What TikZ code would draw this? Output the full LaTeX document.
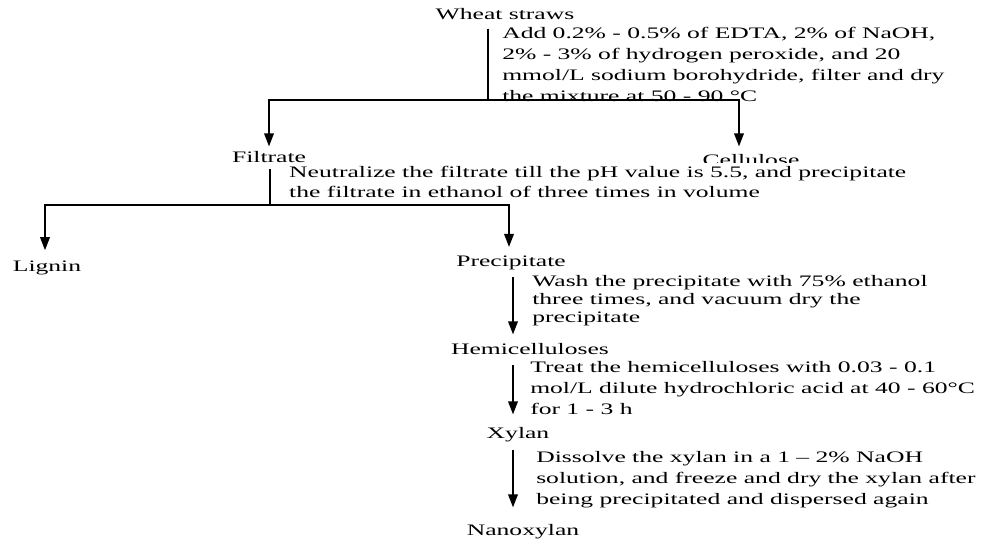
\documentclass[tikz,border=0pt]{standalone}
\usepackage{fontspec}
\setmainfont{Liberation Serif}[FakeStretch=1.6]
\usetikzlibrary{arrows.meta}
\begin{document}
\begin{tikzpicture}[x=0.75pt,y=-0.75pt,
  lbl/.style={inner sep=0pt, anchor=base, font=\fontsize{12pt}{15pt}\selectfont},
  note/.style={inner sep=0pt, anchor=base west, align=left, font=\fontsize{12pt}{15.4pt}\selectfont},
  stem/.style={line width=1.5pt},
  flow/.style={line width=1.9pt, -{Triangle[length=10pt,width=7pt]}}]
\useasboundingbox[fill=white] (0,0) rectangle (1000,549);

\node[lbl] (wheat) at (505,20) {Wheat straws};
\node[lbl] (filtrate) at (269,163) {Filtrate};
\node[lbl] (cellulose) at (751,165.5) {Cellulose};
\node[lbl] (lignin) at (47,272) {Lignin};
\node[lbl] (precip) at (511,267) {Precipitate};
\node[lbl] (hemi) at (530,354) {Hemicelluloses};
\node[lbl] (xylan) at (518,438) {Xylan};
\node[lbl] (nano) at (523,535) {Nanoxylan};

\node[note, font=\fontsize{12pt}{15.75pt}\selectfont] (add) at (502,102) {Add 0.2\% - 0.5\% of EDTA, 2\% of NaOH,\\
  2\% - 3\% of hydrogen peroxide, and 20\\
  mmol/L sodium borohydride, filter and dry\\
  the mixture at 50 - 90 °C};
\node[note, fill=white, inner xsep=2pt, inner ysep=2.2pt] (neut) at (286.3,198) {Neutralize the filtrate till the pH value is 5.5, and precipitate\\
  the filtrate in ethanol of three times in volume};
\node[note, font=\fontsize{12pt}{13.2pt}\selectfont] (wash) at (532,322) {Wash the precipitate with 75\% ethanol\\
  three times, and vacuum dry the\\
  precipitate};
\node[note] (treat) at (530,414) {Treat the hemicelluloses with 0.03 - 0.1\\
  mol/L dilute hydrochloric acid at 40 - 60°C\\
  for 1 - 3 h};
\node[note, font=\fontsize{12pt}{15.75pt}\selectfont] (dissolve) at (536,504) {Dissolve the xylan in a 1 -- 2\% NaOH\\
  solution, and freeze and dry the xylan after\\
  being precipitated and dispersed again};

\coordinate (j1) at (488,100);
\coordinate (j2) at (270,205);
\coordinate (ax) at (513,0);
\draw[stem, shorten <=6pt] (wheat.south -| j1) -- (j1);
\draw[flow, shorten >=3.75pt] (j1) -| (filtrate.north);
\draw[flow, shorten >=5.6pt] (j1) -| ([xshift=-9pt]cellulose.north);
\draw[stem, shorten <=4.5pt] (filtrate.south -| j2) -- (j2);
\draw[flow, shorten >=8pt] (j2) -| ([xshift=-1.5pt]lignin.north);
\draw[flow, shorten >=6.75pt] (j2) -| ([xshift=-1.5pt]precip.north);
\draw[flow, shorten <=5pt, shorten >=6pt] (precip.south -| ax) -- (hemi.north -| ax);
\draw[flow, shorten <=8pt, shorten >=9pt] (hemi.south -| ax) -- (xylan.north -| ax);
\draw[flow, shorten <=6.4pt, shorten >=12pt] (xylan.south -| ax) -- (nano.north -| ax);
\end{tikzpicture}
\end{document}
